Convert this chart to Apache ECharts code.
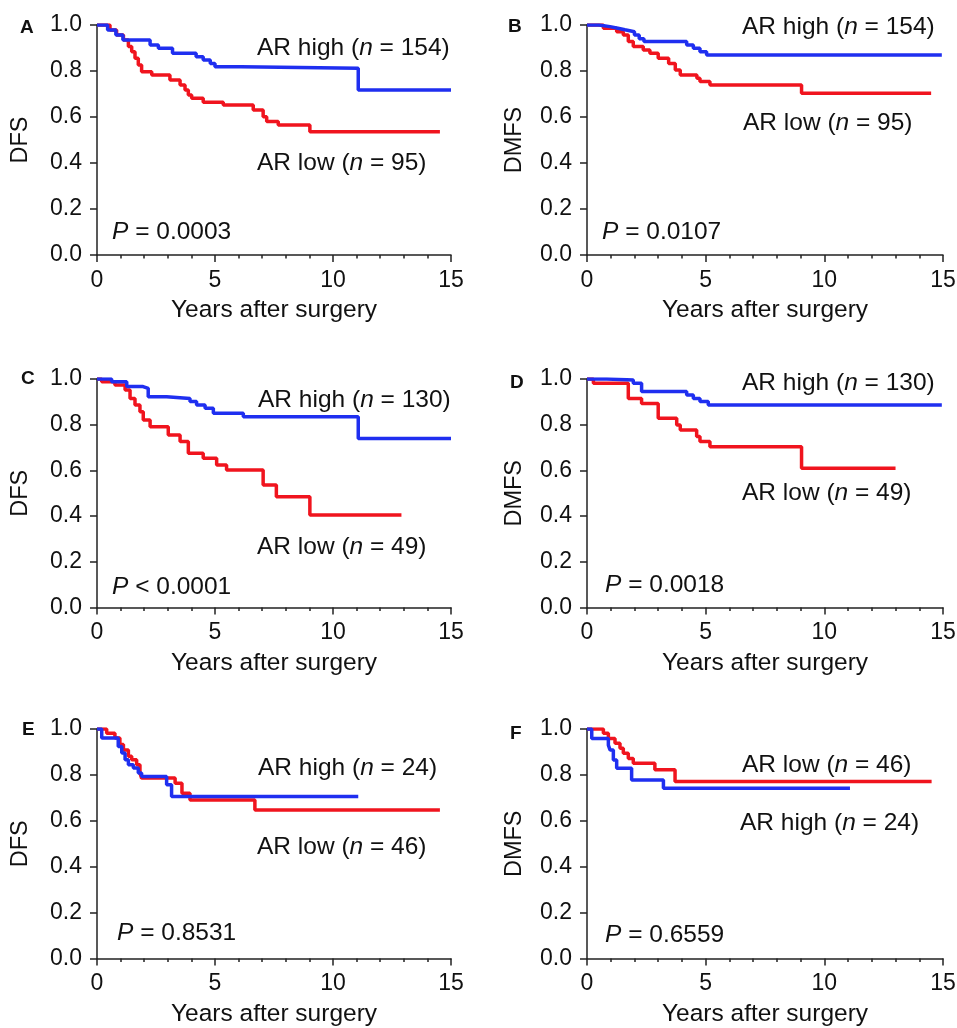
<!DOCTYPE html>
<html>
<head>
<meta charset="utf-8">
<script src="https://cdn.jsdelivr.net/npm/echarts@6.0.0/dist/echarts.min.js"></script>
<style>
  html, body { margin: 0; padding: 0; background: #fff; }
  #main { width: 957px; height: 1028px; }
</style>
</head>
<body>
<div id="main"></div>
<script>
    // ---- data: Kaplan-Meier steps, [years, survival] ----
    var aHigh = [[0, 1], [0.45, 0.978], [0.8, 0.957], [1.1, 0.935], [2.25, 0.913], [2.6, 0.899], [3.2, 0.877],
        [4.2, 0.862], [4.5, 0.848], [4.8, 0.833], [5.0, 0.819], [6.1, 0.812], [11.07, 0.717], [15.0, 0.717]];
    var aLow = [[0, 1], [0.55, 0.978], [0.83, 0.957], [1.12, 0.935], [1.33, 0.906], [1.47, 0.884], [1.61, 0.855],
        [1.75, 0.826], [1.89, 0.797], [2.32, 0.783], [3.09, 0.761], [3.52, 0.739], [3.73, 0.717], [3.87, 0.696],
        [4.01, 0.681], [4.5, 0.664], [5.35, 0.652], [6.62, 0.63], [7.04, 0.601], [7.19, 0.58], [7.68, 0.565],
        [9.02, 0.536], [14.53, 0.536]];

    var bHigh = [[0, 1], [0.5, 0.993], [0.97, 0.986], [1.3, 0.979], [1.6, 0.971], [2.0, 0.957], [2.2, 0.94],
        [2.4, 0.928], [4.2, 0.913], [4.48, 0.899], [4.76, 0.884], [5.04, 0.87], [14.95, 0.87]];
    var bLow = [[0, 1], [0.69, 0.986], [1.25, 0.971], [1.53, 0.957], [1.74, 0.928], [1.95, 0.906], [2.37, 0.891],
        [2.65, 0.877], [3.0, 0.855], [3.44, 0.833], [3.72, 0.804], [3.93, 0.783], [4.63, 0.768], [4.76, 0.754],
        [5.18, 0.739], [9.04, 0.703], [14.5, 0.703]];

    var cHigh = [[0, 1], [0.62, 0.988], [1.26, 0.967], [1.95, 0.959], [2.17, 0.922], [2.95, 0.915], [3.94, 0.901],
        [4.22, 0.886], [4.58, 0.872], [4.93, 0.85], [6.2, 0.835], [11.07, 0.74], [15.0, 0.74]];
    var cLow = [[0, 1], [0.2, 0.988], [0.76, 0.974], [1.19, 0.952], [1.4, 0.915], [1.61, 0.886], [1.82, 0.857],
        [1.96, 0.821], [2.25, 0.791], [3.02, 0.755], [3.52, 0.726], [3.87, 0.675], [4.5, 0.653], [5.07, 0.624],
        [5.49, 0.602], [7.04, 0.536], [7.6, 0.485], [9.02, 0.405], [12.9, 0.405]];

    var dHigh = [[0, 1], [0.83, 0.996], [1.95, 0.981], [2.3, 0.945], [4.2, 0.93], [4.48, 0.915], [4.76, 0.901],
        [5.11, 0.886], [14.95, 0.886]];
    var dLow = [[0, 1], [0.27, 0.981], [1.74, 0.915], [2.3, 0.893], [3.0, 0.828], [3.78, 0.799], [3.93, 0.777],
        [4.62, 0.748], [4.76, 0.726], [5.18, 0.704], [9.04, 0.609], [13.0, 0.609]];

    var eHigh = [[0, 1], [0.2, 0.961], [0.9, 0.924], [1.05, 0.895], [1.19, 0.866], [1.33, 0.844], [1.54, 0.83],
        [1.75, 0.808], [1.89, 0.793], [2.95, 0.757], [3.16, 0.706], [11.07, 0.706]];
    var eLow = [[0, 1], [0.41, 0.982], [0.76, 0.961], [0.97, 0.932], [1.12, 0.909], [1.33, 0.881], [1.47, 0.866],
        [1.68, 0.844], [1.82, 0.808], [1.89, 0.786], [3.31, 0.764], [3.6, 0.72], [3.94, 0.691], [6.69, 0.647],
        [14.53, 0.647]];

    var fHigh = [[0, 1], [0.2, 0.959], [0.9, 0.93], [0.97, 0.909], [1.11, 0.865], [1.25, 0.829], [1.88, 0.778],
        [3.22, 0.742], [11.08, 0.742]];
    var fLow = [[0, 1], [0.69, 0.981], [0.9, 0.959], [1.18, 0.938], [1.39, 0.916], [1.53, 0.894], [1.74, 0.872],
        [1.95, 0.851], [2.86, 0.822], [3.71, 0.771], [14.52, 0.771]];

    var highData = [aHigh, bHigh, cHigh, dHigh, eHigh, fHigh];
    var lowData = [aLow, bLow, cLow, dLow, eLow, fLow];

    // ---- texts ----
    var panelLetters = ['A', 'B', 'C', 'D', 'E', 'F'];
    var yNames = ['DFS', 'DMFS', 'DFS', 'DMFS', 'DFS', 'DMFS'];
    var highCounts = [154, 154, 130, 130, 24, 24];
    var lowCounts = [95, 95, 49, 49, 46, 46];
    var pTexts = ['= 0.0003', '= 0.0107', '< 0.0001', '= 0.0018', '= 0.8531', '= 0.6559'];

    // ---- layout ----
    var font = 'Liberation Sans, Arial, sans-serif';
    var colLeft = [97, 587], colWidth = [354, 356];
    var rowTop = [25, 379, 729], rowHeight = [230, 228.5, 229.5];
    var yNameGap = [64, 60, 64, 60, 64, 60];
    // [x, y] of letter, high label, low label, P label
    var letterPos = [[20, 28], [508, 27], [21, 379], [510, 383], [22, 730], [510, 734]];
    var highPos = [[257, 48], [742, 27], [258, 400], [742, 383], [258, 768], [740, 823]];
    var lowPos = [[257, 163], [743, 123], [257, 547], [742, 493], [257, 847], [742, 765]];
    var pPos = [[112, 232], [602, 232], [112, 587], [605, 585], [117, 933], [605, 935]];

    var blue = '#1f2ff0';
    var red = '#f0141e';
    var axisColor = '#222';
    var textSize = 24.5;

    var myChart = echarts.init(document.getElementById('main'));

    var grids = [], xAxes = [], yAxes = [], series = [], graphics = [];

    function richText(x, y, text) {
        return {
            type: 'text',
            x: x,
            y: y,
            style: {
                text: text,
                fontSize: textSize,
                fontFamily: font,
                fill: '#111',
                verticalAlign: 'middle',
                align: 'left',
                rich: {
                    i: { fontSize: textSize, fontFamily: font, fontStyle: 'italic', color: '#111' }
                }
            }
        };
    }

    for (var i = 0; i < 6; i++) {
        var col = i % 2, row = Math.floor(i / 2);
        grids.push({
            left: colLeft[col],
            top: rowTop[row],
            width: colWidth[col],
            height: rowHeight[row],
            containLabel: false,
            outerBoundsMode: 'none'
        });
        xAxes.push({
            type: 'value',
            gridIndex: i,
            min: 0,
            max: 15,
            interval: 5,
            splitLine: { show: false },
            axisLine: { lineStyle: { color: axisColor, width: 1.5 } },
            axisTick: { length: 7, lineStyle: { color: axisColor, width: 1.5 } },
            minorTick: { show: true, splitNumber: 5, length: 3.5, lineStyle: { color: axisColor, width: 1.5 } },
            minorSplitLine: { show: false },
            axisLabel: { fontSize: 23, fontFamily: font, color: '#111', margin: 14 },
            name: 'Years after surgery',
            nameLocation: 'middle',
            nameGap: 43,
            nameMoveOverlap: false,
            nameTextStyle: { fontSize: textSize, fontFamily: font, color: '#111' }
        });
        yAxes.push({
            type: 'value',
            gridIndex: i,
            min: 0,
            max: 1,
            interval: 0.2,
            splitLine: { show: false },
            axisLine: { show: true, lineStyle: { color: axisColor, width: 1.5 } },
            axisTick: { show: true, length: 7, lineStyle: { color: axisColor, width: 1.5 } },
            axisLabel: {
                fontSize: 23, fontFamily: font, color: '#111', margin: 15,
                formatter: function (v) { return v.toFixed(1); }
            },
            name: yNames[i],
            nameLocation: 'middle',
            nameRotate: 90,
            nameGap: yNameGap[i],
            nameMoveOverlap: false,
            nameTextStyle: { fontSize: 23.5, fontFamily: font, color: '#111' }
        });
        series.push({
            type: 'line',
            name: 'AR low',
            xAxisIndex: i,
            yAxisIndex: i,
            step: 'end',
            showSymbol: false,
            lineStyle: { color: red, width: 3.5 },
            itemStyle: { color: red },
            data: lowData[i]
        });
        series.push({
            type: 'line',
            name: 'AR high',
            xAxisIndex: i,
            yAxisIndex: i,
            step: 'end',
            showSymbol: false,
            lineStyle: { color: blue, width: 3.5 },
            itemStyle: { color: blue },
            data: highData[i]
        });

        graphics.push({
            type: 'text',
            x: letterPos[i][0],
            y: letterPos[i][1],
            style: {
                text: panelLetters[i],
                fontSize: 19,
                fontWeight: 'bold',
                fontFamily: font,
                fill: '#111',
                verticalAlign: 'middle'
            }
        });
        graphics.push(richText(highPos[i][0], highPos[i][1], 'AR high ({i|n} = ' + highCounts[i] + ')'));
        graphics.push(richText(lowPos[i][0], lowPos[i][1], 'AR low ({i|n} = ' + lowCounts[i] + ')'));
        graphics.push(richText(pPos[i][0], pPos[i][1], '{i|P} ' + pTexts[i]));
    }

    var option = {
        animation: false,
        backgroundColor: '#fff',
        grid: grids,
        xAxis: xAxes,
        yAxis: yAxes,
        series: series,
        graphic: graphics
    };

    myChart.setOption(option);
</script>
</body>
</html>
